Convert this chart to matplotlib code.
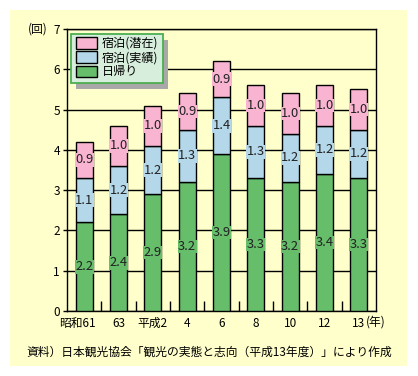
import matplotlib
matplotlib.use("Agg")
import matplotlib.pyplot as plt
from matplotlib.patches import Rectangle
from matplotlib.transforms import ScaledTranslation
import numpy as np

plt.rcParams['font.family'] = ['Noto Sans CJK JP', 'DejaVu Sans']

years = ['昭和61', '63', '平成2', '4', '6', '8', '10', '12', '13']
higaeri = [2.2, 2.4, 2.9, 3.2, 3.9, 3.3, 3.2, 3.4, 3.3]
shukuhaku_jisseki = [1.1, 1.2, 1.2, 1.3, 1.4, 1.3, 1.2, 1.2, 1.2]
shukuhaku_senzai = [0.9, 1.0, 1.0, 0.9, 0.9, 1.0, 1.0, 1.0, 1.0]
series_names = ['日帰り', '宿泊(実績)', '宿泊(潜在)']
y_ticks = [0, 1, 2, 3, 4, 5, 6, 7]
source = '資料）日本観光協会「観光の実態と志向（平成13年度）」により作成'

colors = ['#66BD6A', '#B4D8EA', '#F8B4D0']
bg = '#FFFFCC'

W, H = 418, 376
fig = plt.figure(figsize=(W / 100, H / 100), dpi=100)
fig.patch.set_facecolor('white')
fig.patches.append(Rectangle((10 / W, 1 - 366 / H), 397 / W, 356 / H,
                             transform=fig.transFigure, facecolor=bg,
                             edgecolor='none', zorder=-10))

ax_w, ax_h = 309, 282
ax = fig.add_axes([67 / W, 1 - 311 / H, ax_w / W, ax_h / H])
ax.set_facecolor(bg)

x = np.arange(len(years))
data = [higaeri, shukuhaku_jisseki, shukuhaku_senzai]
bottom = np.zeros(len(years))
bars = []
for vals, col, name in zip(data, colors, series_names):
    b = ax.bar(x, vals, width=0.5, bottom=bottom, color=col, edgecolor='black',
               linewidth=1.0, label=name, zorder=3)
    bars.append(b)
    for xi, v, bt in zip(x, vals, bottom):
        ax.text(xi, bt + v / 2, f'{v:.1f}', ha='center', va='center', fontsize=9.3,
                color='#222222', zorder=4,
                bbox=dict(facecolor=col, edgecolor='none', pad=0.3))
    bottom = bottom + np.array(vals)

ax.set_xlim(-0.5, len(years) - 0.5)
ax.set_ylim(0, 7)
ax.set_yticks(y_ticks)
ax.set_yticklabels([str(t) for t in y_ticks])
ax.yaxis.grid(True, color='black', linewidth=1.0, zorder=1)
ax.set_axisbelow(True)
ax.tick_params(axis='y', length=3, width=1, labelsize=8.5, pad=2)

ax.set_xticks(x)
ax.set_xticklabels(years)
ax.set_xticks(np.arange(0.5, len(years) - 1, 1), minor=True)
ax.tick_params(axis='x', which='major', length=0, labelsize=8.5, pad=4)
ax.tick_params(axis='x', which='minor', direction='in', length=7, width=1)
for s in ax.spines.values():
    s.set_color('black')
    s.set_linewidth(1.0)

lbls = ax.get_xticklabels()
lbls[0].set_transform(lbls[0].get_transform() + ScaledTranslation(-0.07, 0, fig.dpi_scale_trans))

ax.annotate('(年)', xy=(8, 0), xycoords=('data', 'axes fraction'),
            xytext=(7, -11), textcoords='offset pixels', ha='left', va='center',
            fontsize=8.5)
ax.text(-0.062, 1.0, '(回)', transform=ax.transAxes, ha='right', va='center', fontsize=8.5)

# legend box with drop shadow (figure pixel geometry)
box_x, box_top, box_w, box_h = 71, 34, 92, 49
fig.patches.append(Rectangle(((box_x + 5) / W, 1 - (box_top + box_h + 6) / H),
                             box_w / W, box_h / H, transform=fig.transFigure,
                             facecolor='#A8A8A8', edgecolor='none', zorder=4))
fig.patches.append(Rectangle((box_x / W, 1 - (box_top + box_h) / H),
                             box_w / W, box_h / H, transform=fig.transFigure,
                             facecolor='#D8EEDC', edgecolor='#4CAF50',
                             linewidth=1.3, zorder=5))

handles = [bars[2], bars[1], bars[0]]
labels = [series_names[2], series_names[1], series_names[0]]
leg = fig.legend(handles, labels, loc='upper left',
                 bbox_to_anchor=(76 / W, 1 - 37 / H), bbox_transform=fig.transFigure,
                 borderaxespad=0, borderpad=0,
                 fontsize=8.7, handlelength=1.7, handleheight=1.1,
                 labelspacing=0.1, handletextpad=0.4,
                 frameon=False)
leg.set_zorder(10)

fig.text(0.5 * (25 + 393) / W, 1 - 352 / H, source, ha='center', va='center', fontsize=8.5)

fig.savefig('out.png', dpi=100)
